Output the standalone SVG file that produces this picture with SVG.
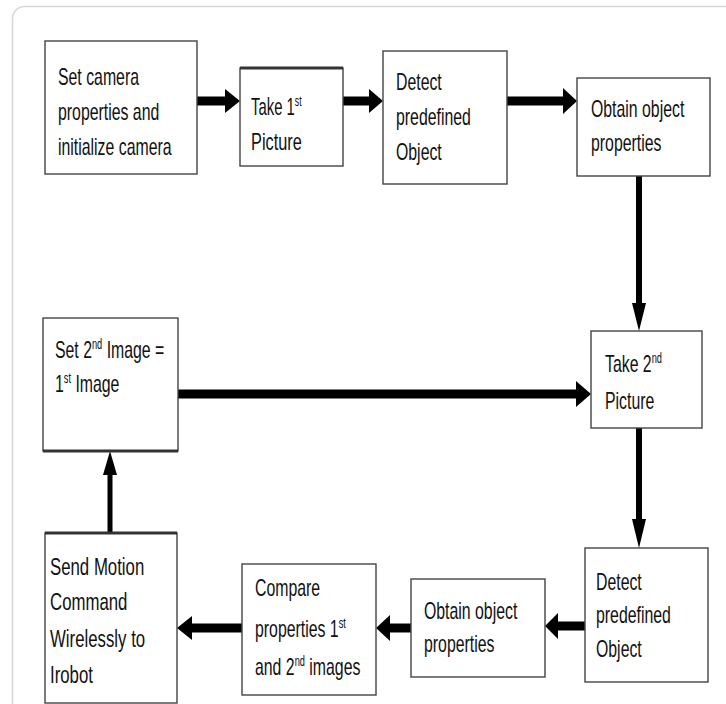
<svg xmlns="http://www.w3.org/2000/svg" width="726" height="704" viewBox="0 0 726 704">
<style>
.box{fill:#fff;stroke:#444;stroke-width:1.4}
.edge{stroke:#333;stroke-width:3}
.t{font-family:"Liberation Sans",Arial,sans-serif;font-size:24px;fill:#111}
.sup{font-size:14px}
.ln{stroke:#000;fill:none}
.hd{fill:#000}
</style>
<rect x="0" y="0" width="726" height="704" fill="#fff"/>
<rect x="12.5" y="6.5" width="760" height="760" rx="12" fill="#fff" stroke="#d6d6d6" stroke-width="1.5"/>

<g id="connectors">
  <line class="ln" x1="197" y1="101" x2="226" y2="101" stroke-width="9"/>
  <polygon class="hd" points="225,89 240,101 225,113"/>
  <line class="ln" x1="343" y1="101" x2="370" y2="101" stroke-width="9"/>
  <polygon class="hd" points="369,89 383,101 369,113"/>
  <line class="ln" x1="507" y1="101" x2="564" y2="101" stroke-width="9"/>
  <polygon class="hd" points="563,88 577,101 563,114"/>
  <line class="ln" x1="639" y1="176" x2="639" y2="305" stroke-width="6"/>
  <polygon class="hd" points="632,303 646,303 639,331"/>
  <line class="ln" x1="178" y1="394" x2="577" y2="394" stroke-width="9"/>
  <polygon class="hd" points="576,381 591,394 576,407"/>
  <line class="ln" x1="639" y1="428" x2="639" y2="521" stroke-width="6"/>
  <polygon class="hd" points="632,519 646,519 639,548"/>
  <line class="ln" x1="585" y1="626" x2="557" y2="626" stroke-width="9"/>
  <polygon class="hd" points="558,613 545,626 558,639"/>
  <line class="ln" x1="411" y1="628" x2="389" y2="628" stroke-width="9"/>
  <polygon class="hd" points="390,615 376,628 390,641"/>
  <line class="ln" x1="242" y1="628" x2="191" y2="628" stroke-width="9"/>
  <polygon class="hd" points="192,616 177,628 192,640"/>
  <line class="ln" x1="110" y1="533" x2="110" y2="473" stroke-width="5"/>
  <polygon class="hd" points="103,475 117,475 110,451"/>
</g>

<g id="n1">
  <rect class="box" x="45" y="41" width="152" height="133"/>
  <text class="t" transform="translate(58,85) scale(0.66,1)">Set camera</text>
  <text class="t" transform="translate(58,120) scale(0.66,1)">properties and</text>
  <text class="t" transform="translate(58,155) scale(0.66,1)">initialize camera</text>
</g>
<g id="n2">
  <rect class="box" x="240" y="68" width="103" height="98"/>
  <line class="edge" x1="240" y1="68" x2="343" y2="68"/>
  <text class="t" transform="translate(251,115) scale(0.62,1)">Take 1<tspan class="sup" dy="-9">st</tspan></text>
  <text class="t" transform="translate(251,150) scale(0.68,1)">Picture</text>
</g>
<g id="n3">
  <rect class="box" x="383" y="51" width="124" height="133"/>
  <text class="t" transform="translate(396,90) scale(0.66,1)">Detect</text>
  <text class="t" transform="translate(396,125) scale(0.66,1)">predefined</text>
  <text class="t" transform="translate(396,160) scale(0.66,1)">Object</text>
</g>
<g id="n4">
  <rect class="box" x="577" y="78" width="133" height="98"/>
  <text class="t" transform="translate(591,117) scale(0.66,1)">Obtain object</text>
  <text class="t" transform="translate(591,151) scale(0.66,1)">properties</text>
</g>
<g id="n5">
  <rect class="box" x="43" y="318" width="135" height="133"/>
  <line class="edge" x1="43" y1="451" x2="178" y2="451"/>
  <text class="t" transform="translate(55,358) scale(0.66,1)">Set 2<tspan class="sup" dy="-9">nd</tspan><tspan dy="9"> Image =</tspan></text>
  <text class="t" transform="translate(55,392) scale(0.66,1)">1<tspan class="sup" dy="-9">st</tspan><tspan dy="9"> Image</tspan></text>
</g>
<g id="n6">
  <rect class="box" x="591" y="331" width="111" height="97"/>
  <text class="t" transform="translate(605,372) scale(0.66,1)">Take 2<tspan class="sup" dy="-9">nd</tspan></text>
  <text class="t" transform="translate(605,409) scale(0.66,1)">Picture</text>
</g>
<g id="n7">
  <rect class="box" x="585" y="548" width="123" height="134"/>
  <text class="t" transform="translate(596,590) scale(0.66,1)">Detect</text>
  <text class="t" transform="translate(596,623) scale(0.66,1)">predefined</text>
  <text class="t" transform="translate(596,657) scale(0.66,1)">Object</text>
</g>
<g id="n8">
  <rect class="box" x="411" y="579" width="134" height="98"/>
  <text class="t" transform="translate(424,619) scale(0.66,1)">Obtain object</text>
  <text class="t" transform="translate(424,652) scale(0.66,1)">properties</text>
</g>
<g id="n9">
  <rect class="box" x="242" y="564" width="134" height="131"/>
  <text class="t" transform="translate(255,596) scale(0.66,1)">Compare</text>
  <text class="t" transform="translate(255,637) scale(0.66,1)">properties 1<tspan class="sup" dy="-9">st</tspan></text>
  <text class="t" transform="translate(255,675) scale(0.66,1)">and 2<tspan class="sup" dy="-9">nd</tspan><tspan dy="9"> images</tspan></text>
</g>
<g id="n10">
  <rect class="box" x="45" y="533" width="132" height="170"/>
  <line class="edge" x1="45" y1="533" x2="177" y2="533"/>
  <text class="t" transform="translate(50,575) scale(0.7,1)">Send Motion</text>
  <text class="t" transform="translate(50,610) scale(0.7,1)">Command</text>
  <text class="t" transform="translate(50,647) scale(0.7,1)">Wirelessly to</text>
  <text class="t" transform="translate(50,683) scale(0.7,1)">Irobot</text>
</g>
</svg>
